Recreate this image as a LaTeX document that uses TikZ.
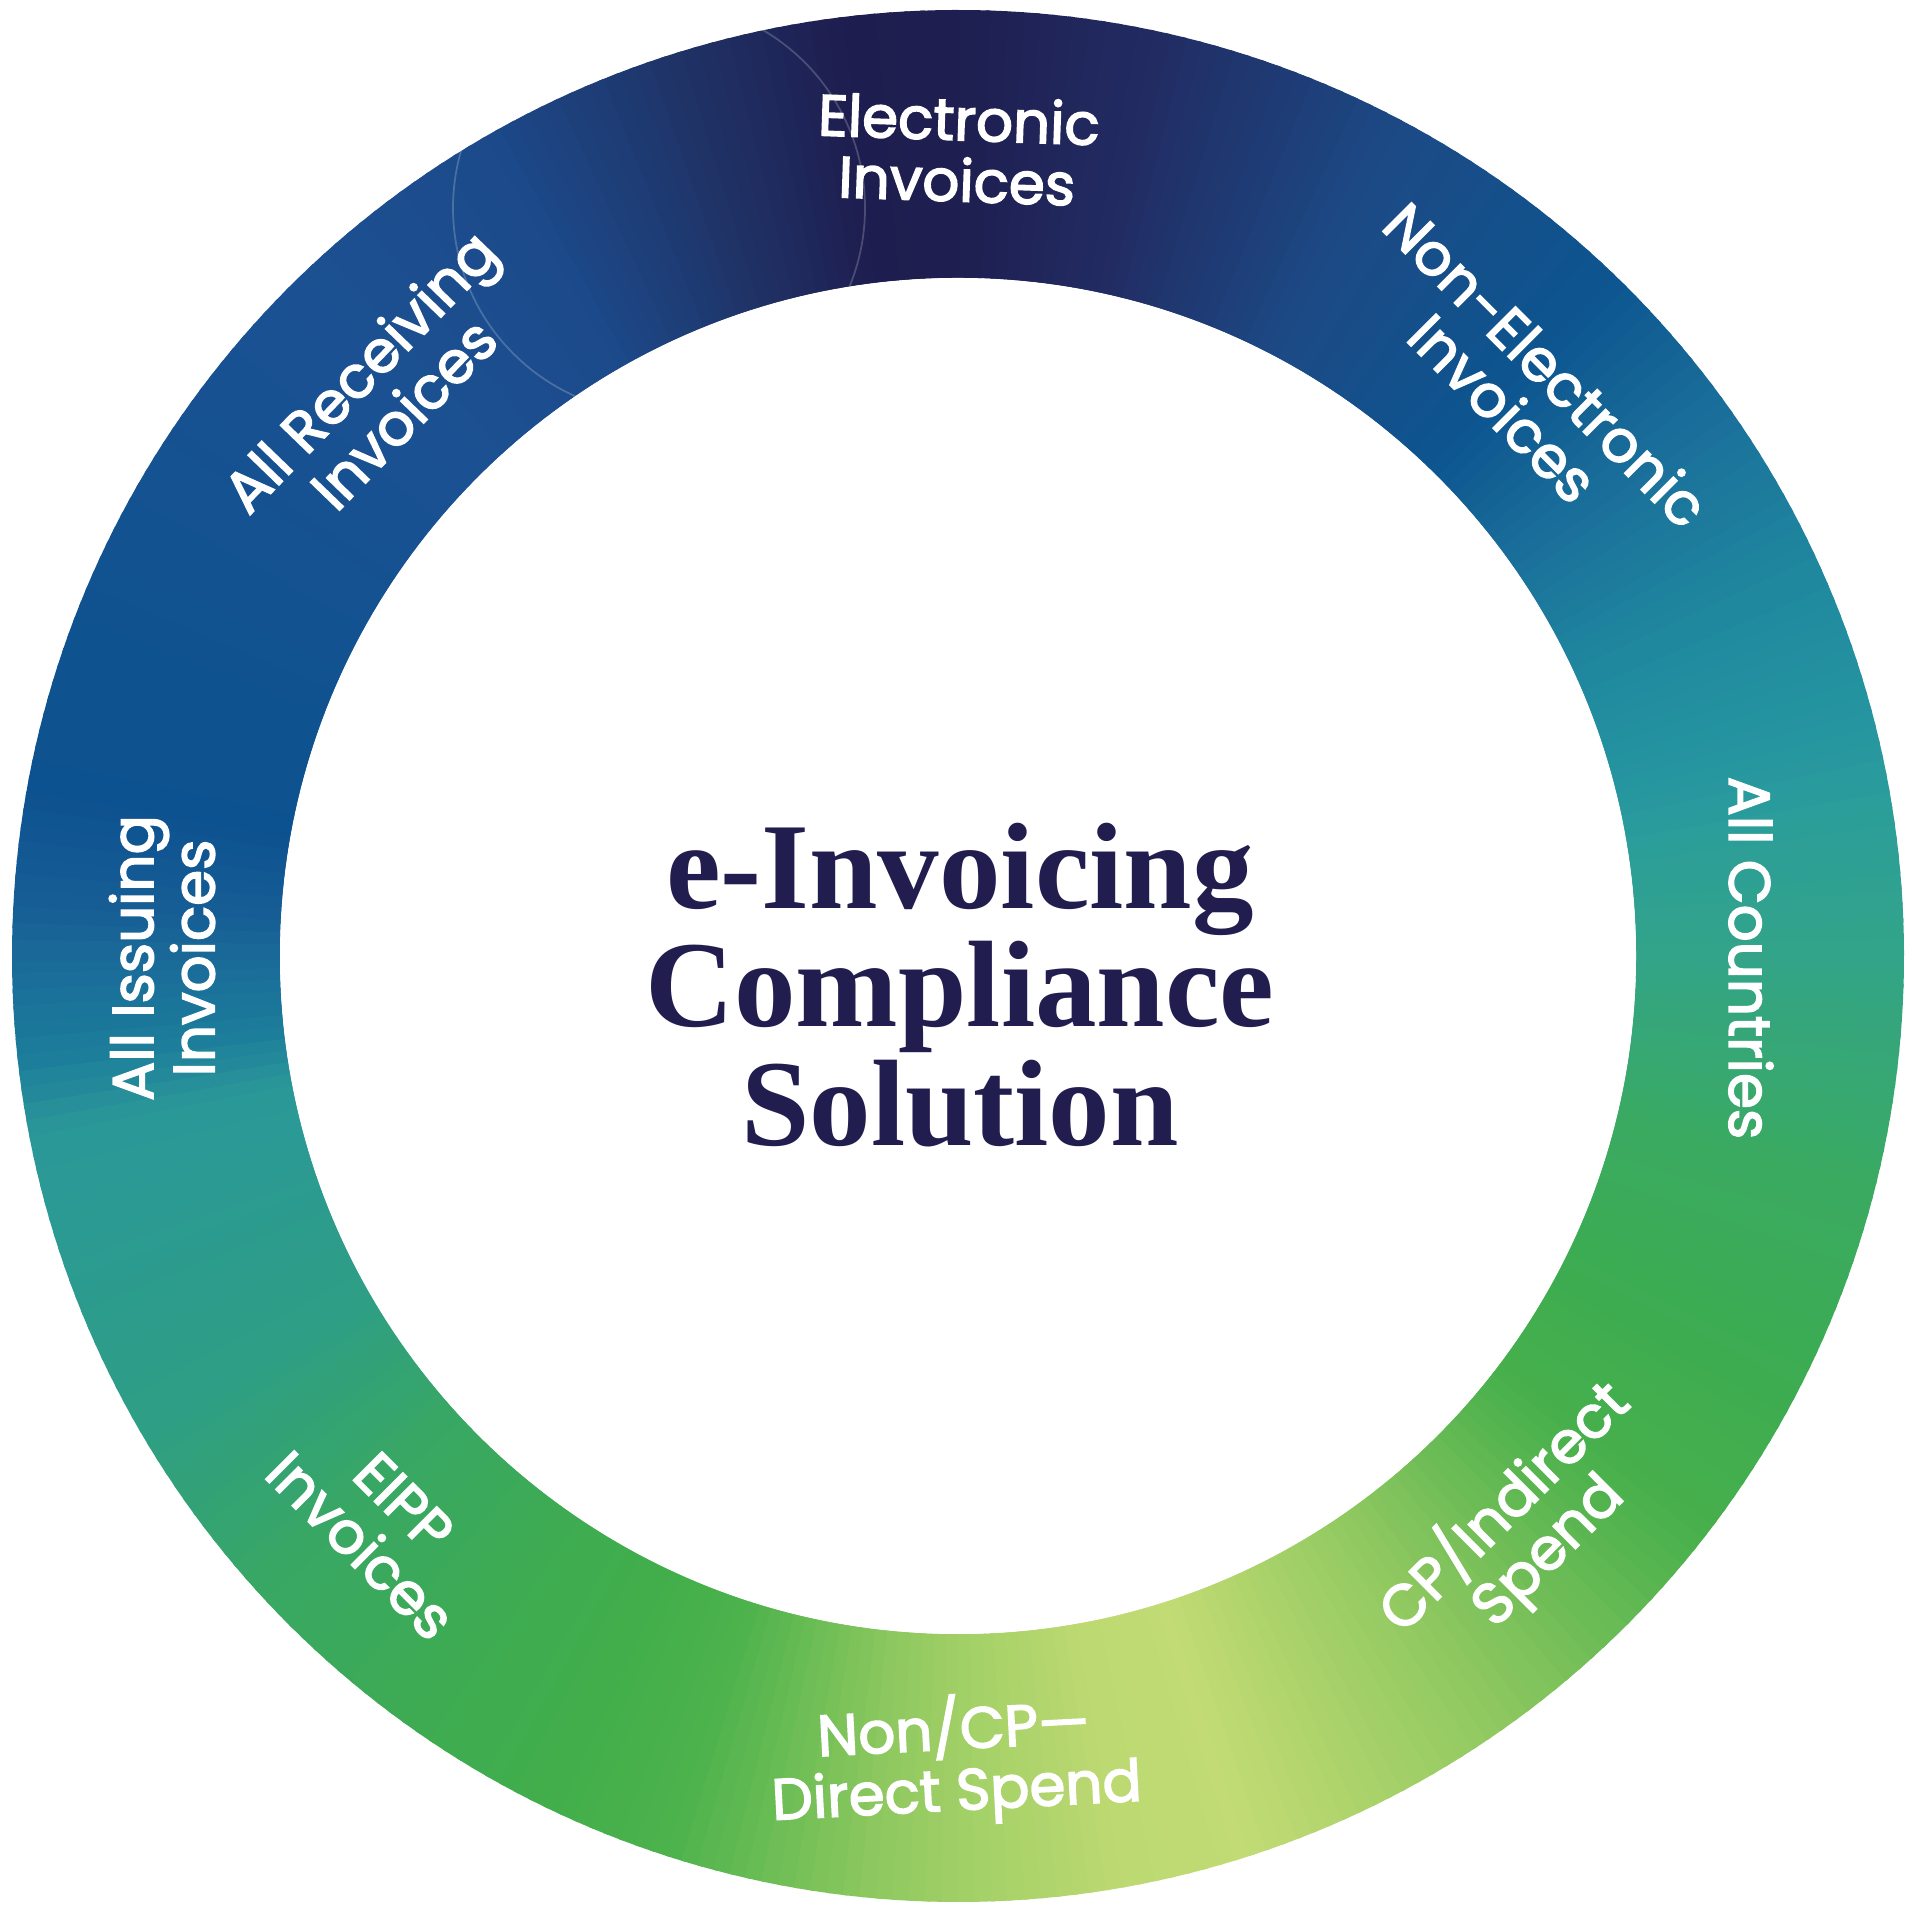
\documentclass[tikz,border=0pt]{standalone}
\usepackage{fontspec}
\setmainfont{Poppins}
\newfontfamily\labelfont{Poppins}[FakeBold=2.6]
\newfontfamily\titlefont{Liberation Serif}

\definecolor{navyink}{HTML}{221D4F}
\newcommand{\ringin}{6.78}
\newcommand{\ringout}{9.46}

\tikzset{
  ringlabel/.style={text=white, font=\labelfont\fontsize{16.5}{17.4}\selectfont, align=center, inner sep=0pt},
  titletext/.style={text=navyink, font=\titlefont\bfseries\fontsize{35}{33.8}\selectfont, align=center, inner sep=0pt}
}

\begin{document}
\begin{tikzpicture}[x=1cm,y=1cm]

\fill[white] (0,0) rectangle (19.2,19.2);
\useasboundingbox (0,0) rectangle (19.2,19.2);

\coordinate (ctr) at (9.58,9.64);

% ring, coloured by angle
\begin{scope}[shift={(ctr)}]
\foreach \sa/\ea/\sc/\ec in {
  -180/-174/196A98/1C7B9B, -174/-169/1C7B9B/2A9898, -169/-150/2A9898/2E9E86,
  -150/-138/2E9E86/38A764, -138/-125/38A764/3EAB52, -125/-116/3EAB52/41AE4B,
  -116/-108/41AE4B/4CB24C, -108/-96/4CB24C/8AC75E, -96/-90/8AC75E/A0CF66,
  -90/-80/A0CF66/BCD972, -80/-72/BCD972/C2DB74, -72/-55/C2DB74/90C860,
  -55/-38/90C860/48B04C, -38/-28/48B04C/3DAC50, -28/-14/3DAC50/3AAA62,
  -14/0/3AAA62/33A488, 0/5/33A488/2FA192, 5/10/2FA192/2A9C9B,
  10/15/2A9C9B/2595A0, 15/25/2595A0/1F869E, 25/36/1F869E/1A6E9A,
  36/46/1A6E9A/0D5590, 46/62/0D5590/1C4A85, 62/78/1C4A85/222B62,
  78/90/222B62/1E1F50, 90/97/1E1F50/1E1D4F, 97/108/1E1D4F/1F3468,
  108/120/1F3468/1C4A8A, 120/135/1C4A8A/1B5192, 135/160/1B5192/0F5290,
  160/170/0F5290/0D5290, 170/177/0D5290/175E96, 177/180/175E96/196A98}{
  \definecolor{ca}{HTML}{\sc}
  \definecolor{cb}{HTML}{\ec}
  \pgfmathtruncatemacro{\n}{\ea-\sa}
  \pgfmathtruncatemacro{\m}{\n-1}
  \foreach \k in {0,...,\m}{
    \pgfmathsetmacro{\p}{100*(\k+0.5)/\n}
    \pgfmathsetmacro{\a}{\sa+\k}
    \pgfmathsetmacro{\b}{\a+1.3}
    \fill[cb!\p!ca] (\a:\ringin) arc[start angle=\a, end angle=\b, radius=\ringin]
      -- (\b:\ringout) arc[start angle=\b, end angle=\a, radius=\ringout] -- cycle;
  }
}

% faint circle in the top left
\begin{scope}
\clip (0,0) circle[radius=\ringout];
\draw[white, opacity=0.2, line width=0.5pt] (-2.99,7.48) circle[radius=2.06];
\end{scope}
\fill[white] (0,0) circle[radius=\ringin];
\end{scope}

\node[titletext] (title) at (9.60,9.35) {e-Invoicing\\Compliance\\Solution};

\node[ringlabel, rotate=-2] (elec) at (9.58,17.71) {Electronic\\Invoices};
\node[ringlabel, rotate=-45] (nonelec) at (15.25,15.34) {Non-Electronic\\Invoices};
\node[ringlabel, rotate=-90] (countries) at (17.51,9.62) {All Countries};
\node[ringlabel, rotate=45] (indirect) at (15.25,3.92) {CP/Indirect\\Spend};
\node[ringlabel, rotate=3] (direct) at (9.55,1.60) {Non/CP—\\Direct Spend};
\node[ringlabel, rotate=-45] (eipp) at (3.82,3.96) {EIPP\\Invoices};
\node[ringlabel, rotate=90] (issuing) at (1.62,9.62) {All Issuing\\Invoices};
\node[ringlabel, rotate=46] (receiving) at (3.81,15.28) {All Receiving\\Invoices};

\end{tikzpicture}
\end{document}
